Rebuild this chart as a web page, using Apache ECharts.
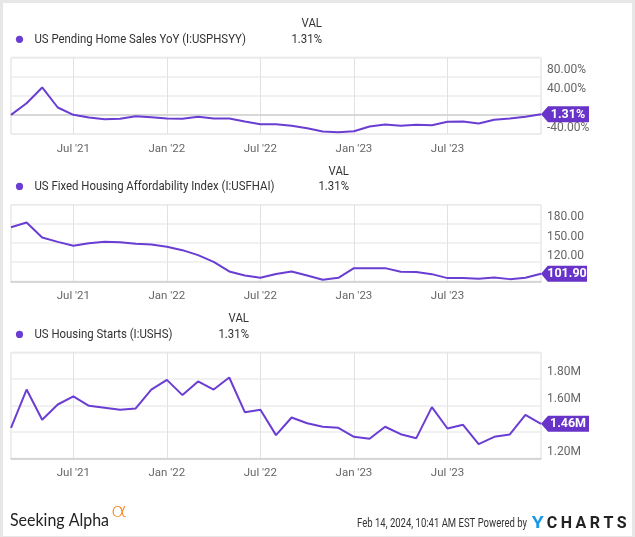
<!DOCTYPE html>
<html><head><meta charset="utf-8">
<script src="https://cdn.jsdelivr.net/npm/echarts@6/dist/echarts.min.js"></script>
<style>
html,body{margin:0;padding:0;background:#e7e7e7;overflow:hidden;}
#frame{position:absolute;left:3px;top:3px;width:629px;height:533px;background:#fff;}
#chart{position:absolute;left:0;top:0;width:635px;height:537px;}
</style></head><body>
<div id="frame"></div>
<div id="chart"></div>
<script>
// ---- data (month-end observation dates) ----
const months = ['2021-02-28','2021-03-31','2021-04-30','2021-05-31','2021-06-30','2021-07-31','2021-08-31','2021-09-30','2021-10-31','2021-11-30','2021-12-31',
  '2022-01-31','2022-02-28','2022-03-31','2022-04-30','2022-05-31','2022-06-30','2022-07-31','2022-08-31','2022-09-30','2022-10-31','2022-11-30','2022-12-31',
  '2023-01-31','2023-02-28','2023-03-31','2023-04-30','2023-05-31','2023-06-30','2023-07-31','2023-08-31','2023-09-30','2023-10-31','2023-11-30','2023-12-31'];
const pendingYoY = [0, 24.3, 57.1, 15.3, 0, -5.6, -9, -8.3, -2.8, -4.9, -7.7, -8.3, -4.2, -7.7, -7.7, -13.9, -19.5, -19.5, -23, -27.8,
  -34.8, -36.2, -34.1, -24.3, -20.2, -23, -20.9, -21.6, -14.6, -13.9, -18.1, -10.4, -7.7, -4.2, 1.31];
const affordability = [174.8, 182, 158.6, 151.8, 145.6, 149.7, 151.8, 151.3, 148.7, 147.6, 144, 138.8, 131, 120.5, 105.4, 99.1, 95.5, 101.5,
  105.4, 99.1, 92.4, 95.5, 110.6, 110.6, 110.6, 104.9, 104.4, 101.2, 95, 95, 93.9, 96, 93.4, 95.5, 101.9];
const housingStartsK = [1430, 1719, 1491, 1606, 1667, 1596, 1581, 1566, 1576, 1719, 1792, 1677, 1780, 1719, 1810, 1548, 1566, 1375, 1508,
  1465, 1438, 1430, 1362, 1347, 1438, 1382, 1352, 1586, 1425, 1453, 1307, 1362, 1380, 1528, 1460];
const tickDates = ['2021-06-30','2021-12-31','2022-06-30','2022-12-31','2023-06-30'];
const tickLabels = ["Jul '21", "Jan '22", "Jul '22", "Jan '23", "Jul '23"];
const seriesNames = ['US Pending Home Sales YoY (I:USPHSYY)', 'US Fixed Housing Affordability Index (I:USFHAI)', 'US Housing Starts (I:USHS)'];
const headerValues = ['1.31%', '1.31%', '1.31%'];
const badgeTexts = ['1.31%', '101.90', '1.46M'];

// ---- styling ----
const PURPLE = '#6a3dd3';
const BADGE = '#6733c8';
const FONT = 'Roboto';
const ctx = document.createElement('canvas').getContext('2d');
function textW(t, font){ ctx.font = font; return ctx.measureText(t).width; }
const HFONT = '13px Roboto';
const K = 211.6 / textW(seriesNames[0], HFONT);

const panels = [
  {top: 57.3, height: 76.7, min: -40, max: 120, interval: 40, fmt: v => v.toFixed(2) + '%', data: pendingYoY, bw: 48,
   valY: 23.3, rowY: 39.3, valRight: 322},
  {top: 204.7, height: 76.6, min: 90, max: 210, interval: 30, fmt: v => v.toFixed(2), data: affordability, bw: 46,
   valY: 171.5, rowY: 186.4, valRight: 349},
  {top: 352.3, height: 106, min: 1200, max: 2000, interval: 200, fmt: v => (v / 1000).toFixed(2) + 'M', data: housingStartsK, bw: 48,
   valY: 318.7, rowY: 334.4, valRight: 249}
];

const tickFn = (idx) => tickDates.indexOf(months[idx]) >= 0;

const grids = [], xAxes = [], yAxes = [], series = [], graphics = [];
panels.forEach((p, i) => {
  const last = p.data.length - 1;
  const lastVal = p.data[last];
  grids.push({left: 11, width: 530, top: p.top, height: p.height, show: true, borderColor: '#dcdcdc', borderWidth: 1, containLabel: false});
  xAxes.push({
    type: 'category', gridIndex: i, data: months, boundaryGap: false,
    axisLine: {show: true, lineStyle: {color: '#cfcfcf', width: 1.5}},
    axisTick: {show: false, interval: tickFn},
    axisLabel: {interval: tickFn, formatter: v => tickLabels[tickDates.indexOf(v)], color: '#666', fontSize: 11.5, fontFamily: FONT, margin: 9},
    splitLine: {show: true, interval: tickFn, lineStyle: {color: '#e2e2e2', width: 1}}
  });
  yAxes.push({
    type: 'value', gridIndex: i, position: 'right', min: p.min, max: p.max, interval: p.interval,
    axisLine: {show: false}, axisTick: {show: false},
    axisLabel: {
      // labels hidden under the last-value badge
      formatter: v => (Math.abs(v - lastVal) < p.interval / 2 ? '' : p.fmt(v)),
      color: '#666', fontSize: 12, fontFamily: FONT, margin: 6, verticalAlign: 'bottom', lineHeight: 13, showMaxLabel: false},
    splitLine: {show: true, lineStyle: {color: '#ececec', width: 1.5}}
  });
  series.push({
    type: 'line', name: seriesNames[i], xAxisIndex: i, yAxisIndex: i, data: p.data,
    symbol: 'none', lineStyle: {color: PURPLE, width: 2}, itemStyle: {color: PURPLE}, clip: false,
    markPoint: {
      symbol: 'path://M0,8L7,0L48,0L48,16L7,16Z', symbolKeepAspect: false,
      symbolSize: [p.bw, 16], symbolOffset: [p.bw / 2, 0], silent: true,
      itemStyle: {color: BADGE},
      label: {show: true, position: 'inside', color: '#fff', fontWeight: 'bold', fontSize: 12.5, fontFamily: FONT, offset: [3, 0.5], formatter: badgeTexts[i]},
      data: [{coord: [last, lastVal]}]
    }
  });
  // header
  graphics.push({type: 'text', x: p.valRight, y: p.valY, scaleX: K,
    style: {text: 'VAL', fill: '#333', font: HFONT, textAlign: 'right', align: 'right', textVerticalAlign: 'middle', verticalAlign: 'middle'}});
  graphics.push({type: 'circle', shape: {cx: 19.5, cy: p.rowY, r: 3.6}, style: {fill: PURPLE}});
  graphics.push({type: 'text', x: 34.4, y: p.rowY, scaleX: K,
    style: {text: seriesNames[i], fill: '#333', font: HFONT, textAlign: 'left', align: 'left', textVerticalAlign: 'middle', verticalAlign: 'middle'}});
  graphics.push({type: 'text', x: p.valRight, y: p.rowY, scaleX: K,
    style: {text: headerValues[i], fill: '#333', font: HFONT, textAlign: 'right', align: 'right', textVerticalAlign: 'middle', verticalAlign: 'middle'}});
});

// footer
const saFont = '18px Lato';
graphics.push({type: 'text', x: 10, y: 520, scaleX: 99 / textW('Seeking Alpha', saFont),
  style: {text: 'Seeking Alpha', fill: '#222', font: saFont, align: 'left', textAlign: 'left', verticalAlign: 'middle', textVerticalAlign: 'middle'}});
const alFont = '200 19px "DejaVu Sans"';
graphics.push({type: 'text', x: 110.5, y: 512.5, scaleX: 17 / textW('α', alFont),
  style: {text: 'α', fill: '#f48a1f', font: alFont, align: 'left', textAlign: 'left', verticalAlign: 'middle', textVerticalAlign: 'middle'}});
const dFont = '12px Roboto';
const dText = 'Feb 14, 2024, 10:41 AM EST Powered by';
graphics.push({type: 'text', x: 357, y: 524, scaleX: 170 / textW(dText, dFont),
  style: {text: dText, fill: '#333', font: dFont, align: 'left', textAlign: 'left', verticalAlign: 'middle', textVerticalAlign: 'middle'}});
const yFont = 'bold 16px Roboto';
graphics.push({type: 'text', x: 531.7, y: 523.5, scaleX: 12 / textW('Y', yFont),
  style: {text: 'Y', fill: '#1a9ae6', font: yFont, align: 'left', textAlign: 'left', verticalAlign: 'middle', textVerticalAlign: 'middle'}});
const letters = ['C','H','A','R','T','S'];
const lw = letters.map(l => textW(l, yFont));
const gap = (80 - lw.reduce((a, b) => a + b, 0)) / (letters.length - 1);
let lx = 546.7;
letters.forEach((l, j) => {
  graphics.push({type: 'text', x: lx, y: 523.5,
    style: {text: l, fill: '#222', font: yFont, align: 'left', textAlign: 'left', verticalAlign: 'middle', textVerticalAlign: 'middle'}});
  lx += lw[j] + gap;
});

const chart = echarts.init(document.getElementById('chart'), null, {renderer: 'canvas'});
chart.setOption({
  animation: false,
  grid: grids, xAxis: xAxes, yAxis: yAxes, series: series,
  graphic: {elements: graphics}
});
</script>
</body></html>
